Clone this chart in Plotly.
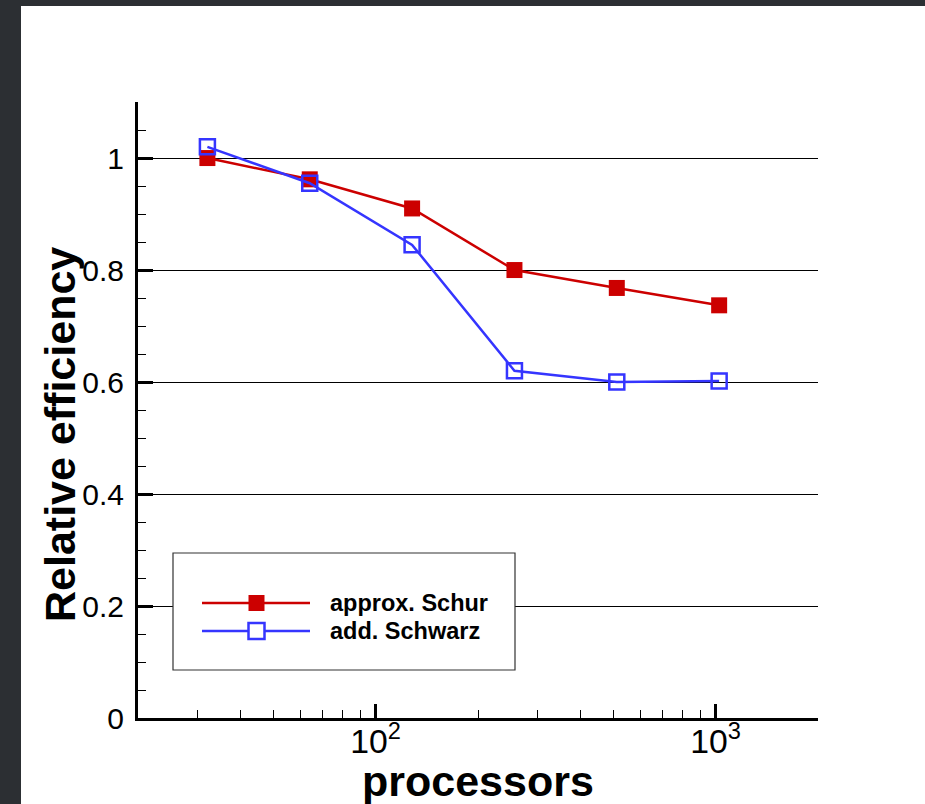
import math
import plotly.graph_objects as go

# ---- data ----
processors = [32, 64, 128, 256, 512, 1024]
schur_eff = [1.0, 0.962, 0.91, 0.80, 0.768, 0.737]
schwarz_eff = [1.02, 0.955, 0.845, 0.62, 0.60, 0.602]
series_names = ["approx. Schur", "add. Schwarz"]
y_ticks = [0, 0.2, 0.4, 0.6, 0.8, 1.0]
y_tick_labels = ["0", "0.2", "0.4", "0.6", "0.8", "1"]

RED = "#cc0000"
BLUE = "#3535ff"
FONT = "Liberation Sans, Arial, Helvetica, sans-serif"

W, H = 925, 804
L, R, T, B = 138, 107, 102, 86
PW, PH = W - L - R, H - T - B


def px(x):
    return (x - L) / PW


def py(y):
    return (H - B - y) / PH


fig = go.Figure()
fig.add_trace(go.Scatter(
    x=processors, y=schur_eff, name=series_names[0], mode="lines+markers",
    line=dict(color=RED, width=2.5),
    marker=dict(symbol="square", size=16, color=RED),
    cliponaxis=False,
))
fig.add_trace(go.Scatter(
    x=processors, y=schwarz_eff, name=series_names[1], mode="lines+markers",
    line=dict(color=BLUE, width=2.5),
    marker=dict(symbol="square-open", size=15, color=BLUE, line=dict(width=2.5, color=BLUE)),
    cliponaxis=False,
))

shapes = []
# dark slide border (left and top)
shapes.append(dict(type="rect", xref="paper", yref="paper", layer="below",
                   x0=px(0), x1=px(21), y0=py(H), y1=py(0),
                   fillcolor="#2c2f33", line=dict(width=0)))
shapes.append(dict(type="rect", xref="paper", yref="paper", layer="below",
                   x0=px(0), x1=px(W), y0=py(6), y1=py(0),
                   fillcolor="#2c2f33", line=dict(width=0)))
# legend box
shapes.append(dict(type="rect", xref="paper", yref="paper", layer="above",
                   x0=px(173), x1=px(515), y0=py(670), y1=py(553),
                   fillcolor="white", line=dict(color="#333333", width=1.2)))
legend_rows = [(603, RED, True), (631, BLUE, False)]
for yy, col, filled in legend_rows:
    shapes.append(dict(type="line", xref="paper", yref="paper", layer="above",
                       x0=px(202), x1=px(310), y0=py(yy), y1=py(yy),
                       line=dict(color=col, width=2.5)))
    shapes.append(dict(type="rect", xref="paper", yref="paper", layer="above",
                       x0=px(248.5), x1=px(264.5), y0=py(yy + 8), y1=py(yy - 8),
                       fillcolor=col if filled else "white",
                       line=dict(color=col, width=2.5 if not filled else 0)))

annotations = []
for (yy, _, _), name in zip(legend_rows, series_names):
    annotations.append(dict(xref="paper", yref="paper", x=px(328), y=py(yy),
                            xanchor="left", yanchor="middle", showarrow=False,
                            text="<b>%s</b>" % name,
                            font=dict(family=FONT, size=23.5, color="black")))
annotations.append(dict(xref="paper", yref="paper", x=px(60), y=py(435),
                        xanchor="center", yanchor="middle", showarrow=False,
                        textangle=-90, text="<b>Relative efficiency</b>",
                        font=dict(family=FONT, size=43, color="black")))
annotations.append(dict(xref="paper", yref="paper", x=px(478), y=py(781),
                        xanchor="center", yanchor="middle", showarrow=False,
                        text="<b>processors</b>",
                        font=dict(family=FONT, size=43, color="black")))

fig.update_layout(
    width=W, height=H,
    margin=dict(l=L, r=R, t=T, b=B, pad=0),
    paper_bgcolor="white", plot_bgcolor="white",
    showlegend=False,
    font=dict(family=FONT, size=28, color="black"),
    shapes=shapes, annotations=annotations,
    xaxis=dict(
        type="log", range=[math.log10(20), math.log10(2000)],
        dtick=1, exponentformat="power", showgrid=False, zeroline=False,
        showline=True, linecolor="black", linewidth=3,
        ticks="inside", ticklen=14, tickwidth=2.5, tickcolor="black",
        minor=dict(ticks="inside", ticklen=8, tickwidth=1, tickcolor="black",
                   dtick="D1", showgrid=False),
        tickfont=dict(family=FONT, size=27),
        ticklabelstandoff=-7,
    ),
    yaxis=dict(
        range=[0, 1.1001], tickvals=y_ticks, ticktext=y_tick_labels,
        showgrid=True, gridcolor="black", gridwidth=1, zeroline=False,
        showline=True, linecolor="black", linewidth=3,
        ticks="inside", ticklen=15, tickwidth=2.5, tickcolor="black",
        minor=dict(dtick=0.05, ticks="inside", ticklen=8, tickwidth=1,
                   tickcolor="black", showgrid=False),
        tickfont=dict(family=FONT, size=30),
        ticklabelstandoff=5,
    ),
)

fig.write_html("out.html", config={"displayModeBar": False},
               post_script="document.body.style.margin='0';document.body.style.overflow='hidden';")
